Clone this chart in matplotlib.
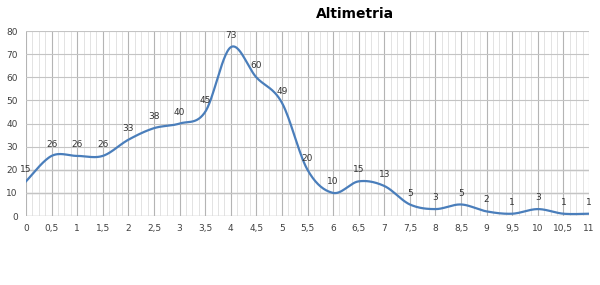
import matplotlib.pyplot as plt
import numpy as np

# datos de la altimetria
distancia = [0, 0.5, 1, 1.5, 2, 2.5, 3, 3.5, 4, 4.5, 5, 5.5, 6, 6.5, 7, 7.5,
             8, 8.5, 9, 9.5, 10, 10.5, 11]
altura = [15, 26, 26, 26, 33, 38, 40, 45, 73, 60, 49, 20, 10, 15, 13, 5,
          3, 5, 2, 1, 3, 1, 1]
etiquetas_x = ['0', '0,5', '1', '1,5', '2', '2,5', '3', '3,5', '4', '4,5', '5',
               '5,5', '6', '6,5', '7', '7,5', '8', '8,5', '9', '9,5', '10',
               '10,5', '11']
ticks_y = [0, 10, 20, 30, 40, 50, 60, 70, 80]


# linea suavizada tipo Excel (Catmull-Rom -> Bezier)
def suavizar(x, y, n=30, t=0.5):
    x = np.asarray(x, float)
    y = np.asarray(y, float)
    px = np.concatenate([[x[0]], x, [x[-1]]])
    py = np.concatenate([[y[0]], y, [y[-1]]])
    xs, ys = [], []
    s = np.linspace(0, 1, n)
    for i in range(1, len(px) - 2):
        p0 = np.array([px[i], py[i]])
        p3 = np.array([px[i + 1], py[i + 1]])
        p1 = p0 + (np.array([px[i + 1], py[i + 1]]) - np.array([px[i - 1], py[i - 1]])) * t / 3
        p2 = p3 - (np.array([px[i + 2], py[i + 2]]) - np.array([px[i], py[i]])) * t / 3
        b = ((1 - s) ** 3)[:, None] * p0 + (3 * (1 - s) ** 2 * s)[:, None] * p1 \
            + (3 * (1 - s) * s ** 2)[:, None] * p2 + (s ** 3)[:, None] * p3
        xs.extend(b[:, 0])
        ys.extend(b[:, 1])
    return xs, ys


fig = plt.figure(figsize=(6, 2.85), dpi=100)
ax = fig.add_axes([0.0433, 0.242, 0.9384, 0.649])

sx, sy = suavizar(distancia, altura)
ax.plot(sx, sy, color='#4A7EBB', lw=1.6, zorder=3)

for xv, yv in zip(distancia, altura):
    ax.annotate(str(yv), (xv, yv), xytext=(0, 5), textcoords='offset points',
                ha='center', va='bottom', fontsize=6.5, color='#333333', zorder=4)

ax.set_xlim(0, 11)
ax.set_ylim(0, 80)
ax.set_xticks(distancia)
ax.set_xticklabels(etiquetas_x)
ax.set_yticks(ticks_y)
ax.set_xticks(np.arange(0, 11.01, 0.125), minor=True)
ax.tick_params(axis='both', which='both', length=0, labelsize=6.5,
               colors='#404040', pad=6)
ax.grid(True, which='major', axis='x', color='#B4B4B4', lw=0.8)
ax.grid(True, which='minor', axis='x', color='#DEDEDE', lw=0.6)
ax.grid(True, which='major', axis='y', color='#C4C4C4', lw=0.8)
for yv in ticks_y[:3]:
    ax.axhline(yv, color='#9A9A9A', lw=0.9, zorder=1)
for s in ax.spines.values():
    s.set_visible(False)

fig.text(0.592, 0.952, 'Altimetria', ha='center', va='center',
         fontsize=10, fontweight='bold')

fig.savefig('out.png', dpi=100)
